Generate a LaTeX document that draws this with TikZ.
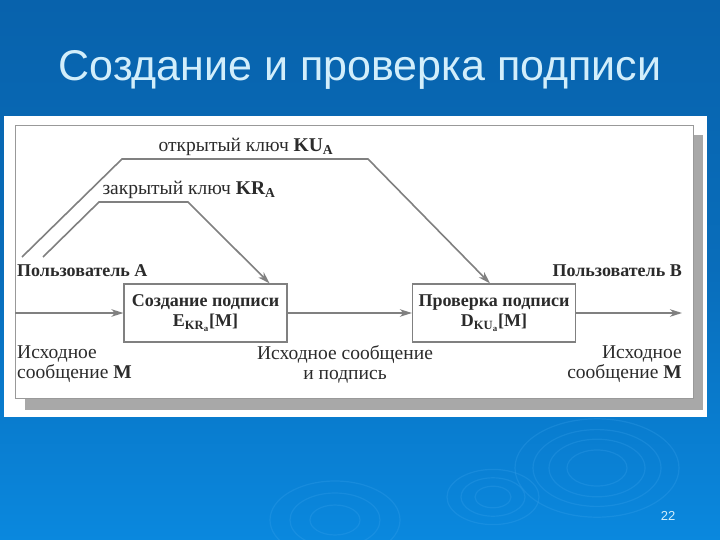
\documentclass[tikz,border=0pt]{standalone}
\usepackage{fontspec}
\setmainfont{Liberation Serif}
\newfontfamily\titlefont{Liberation Sans}
\usetikzlibrary{arrows.meta}
\definecolor{bgtop}{HTML}{0862AC}
\definecolor{bgbot}{HTML}{0A88DE}
\definecolor{ripple}{HTML}{3FA6EE}
\definecolor{titlecol}{HTML}{D2EEFB}
\definecolor{linecol}{HTML}{808080}
\definecolor{txtcol}{HTML}{2B2B2B}
\definecolor{shadowgray}{HTML}{A8A8A8}
\tikzset{
  conn/.style={draw=linecol, line width=1.6pt},
  arr/.style={conn, -{Stealth[length=12pt,width=7.5pt,inset=3.5pt]}},
  procbox/.style={draw=linecol, line width=1.2pt, fill=white, minimum width=163pt, minimum height=58pt, align=center, inner sep=0pt, font=\fontsize{18}{20}\selectfont\bfseries, text=txtcol},
  lbl/.style={inner sep=0pt, font=\fontsize{19.5}{20}\selectfont, text=txtcol},
  boldlbl/.style={inner sep=0pt, font=\fontsize{18}{20}\selectfont\bfseries, text=txtcol},
  ring/.style={draw=ripple, line width=1.2pt, opacity=0.25}
}
\begin{document}
\begin{tikzpicture}[x=1pt,y=-1pt]
\useasboundingbox (0,0) rectangle (720,540);
% background
\shade[top color=bgtop, bottom color=bgbot, middle color=bgtop!70!bgbot] (0,0) rectangle (720,540);
% ripples
\foreach \r in {30,48,64,82} {\draw[ring] (597,468) ellipse ({\r} and {0.6*\r});}
\foreach \r in {18,32,46} {\draw[ring] (493,497) ellipse ({\r} and {0.6*\r});}
\foreach \r in {25,45,65} {\draw[ring] (335,520) ellipse ({\r} and {0.6*\r});}
% title
\node[font=\titlefont\fontsize{43}{47}\selectfont, text=titlecol] (title) at (360,70) {Создание и проверка подписи};
% panel
\fill[white] (4,116) rectangle (707,417);
\fill[shadowgray] (25,135) rectangle (703,410);
\draw[fill=white, draw=black!40, line width=0.8pt] (15,125) rectangle (693,398);
% boxes
\node[procbox] (box1) at (205.5,313) {Создание подписи\\E\textsubscript{KR\textsubscript{a}}[M]};
\node[procbox] (box2) at (494,313) {Проверка подписи\\D\textsubscript{KU\textsubscript{a}}[M]};
% free ends
\coordinate (inA) at (15,313);
\coordinate (outB) at (682,313);
\coordinate (pubStart) at (22,257);
\coordinate (privStart) at (43,257);
% connectors
\draw[arr] (inA) -- (box1.west);
\draw[arr] (box1.east) -- (box2.west);
\draw[arr] (box2.east) -- (outB);
\draw[arr] (pubStart) -- (122,159) -- (368,159) -- ([xshift=-4pt]box2.north);
\draw[arr] (privStart) -- (99,202) -- (188,202) -- ([xshift=-18pt]box1.north east);
% labels
\node[lbl] (pubkey) at (246,147) {открытый ключ \textbf{KU\textsubscript{A}}};
\node[lbl] (privkey) at (189,190) {закрытый ключ \textbf{KR\textsubscript{A}}};
\node[boldlbl, anchor=west] (userA) at (17,271) {Пользователь А};
\node[boldlbl, anchor=east] (userB) at (682,271) {Пользователь В};
\node[lbl, anchor=west, align=left] (msgA) at (17,364) {Исходное\\сообщение \textbf{M}};
\node[lbl, align=center] (msgSig) at (345,364) {Исходное сообщение\\и подпись};
\node[lbl, anchor=east, align=right] (msgB) at (682,364) {Исходное\\сообщение \textbf{M}};
% page number
\node[font=\titlefont\fontsize{13}{15}\selectfont, text=titlecol] (pagenum) at (668,516) {22};
\end{tikzpicture}
\end{document}
